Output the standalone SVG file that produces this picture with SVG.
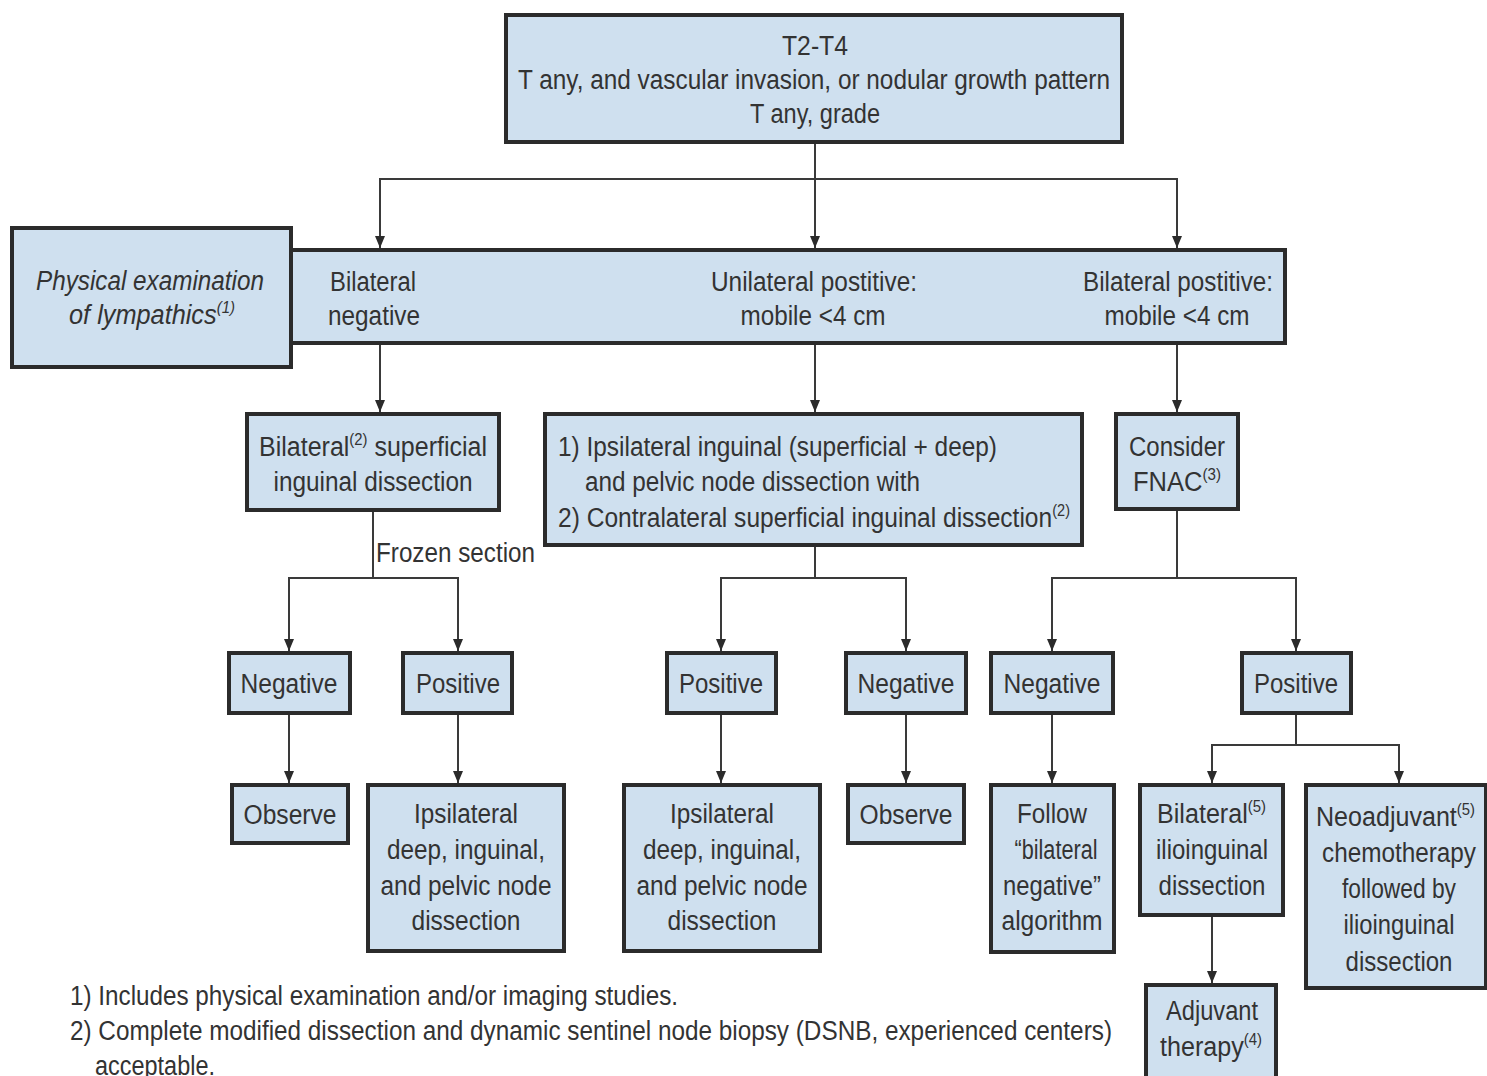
<svg xmlns="http://www.w3.org/2000/svg" width="1487" height="1076" viewBox="0 0 1487 1076">
<defs>
<style>
.box{fill:#cfe0ef;stroke:#2b2b2b;stroke-width:4}
.t{font-family:"Liberation Sans",Arial,sans-serif;font-size:27px;fill:#333;lengthAdjust:spacingAndGlyphs}
.m{text-anchor:middle}
.it{font-style:italic}
.sup{font-size:16px}
.conn line,.conn polyline{stroke:#3a3a3a;stroke-width:2;fill:none}
.arr{marker-end:url(#ah)}
</style>
<marker id="ah" markerUnits="userSpaceOnUse" markerWidth="10" markerHeight="12" refX="5" refY="12" orient="0" viewBox="0 0 10 12">
<path d="M0,0 L10,0 L5,12 z" fill="#2b2b2b"/>
</marker>
</defs>
<rect width="1487" height="1076" fill="#ffffff"/>

<g class="conn" id="connectors">
<line x1="815" y1="142" x2="815" y2="248" class="arr"/>
<polyline points="380,248 380,179 1177,179 1177,248"/>
<line x1="380" y1="179" x2="380" y2="248" class="arr"/>
<line x1="1177" y1="179" x2="1177" y2="248" class="arr"/>
<line x1="380" y1="343" x2="380" y2="412" class="arr"/>
<line x1="815" y1="343" x2="815" y2="412" class="arr"/>
<line x1="1177" y1="343" x2="1177" y2="412" class="arr"/>
<line x1="373" y1="510" x2="373" y2="578"/>
<polyline points="289,651 289,578 458,578 458,651"/>
<line x1="289" y1="578" x2="289" y2="651" class="arr"/>
<line x1="458" y1="578" x2="458" y2="651" class="arr"/>
<line x1="815" y1="545" x2="815" y2="578"/>
<polyline points="721,651 721,578 906,578 906,651"/>
<line x1="721" y1="578" x2="721" y2="651" class="arr"/>
<line x1="906" y1="578" x2="906" y2="651" class="arr"/>
<line x1="1177" y1="509" x2="1177" y2="578"/>
<polyline points="1052,651 1052,578 1296,578 1296,651"/>
<line x1="1052" y1="578" x2="1052" y2="651" class="arr"/>
<line x1="1296" y1="578" x2="1296" y2="651" class="arr"/>
<line x1="289" y1="713" x2="289" y2="783" class="arr"/>
<line x1="458" y1="713" x2="458" y2="783" class="arr"/>
<line x1="721" y1="713" x2="721" y2="783" class="arr"/>
<line x1="906" y1="713" x2="906" y2="783" class="arr"/>
<line x1="1052" y1="713" x2="1052" y2="783" class="arr"/>
<line x1="1296" y1="713" x2="1296" y2="745"/>
<polyline points="1212,783 1212,745 1399,745 1399,783"/>
<line x1="1212" y1="745" x2="1212" y2="783" class="arr"/>
<line x1="1399" y1="745" x2="1399" y2="783" class="arr"/>
<line x1="1212" y1="915" x2="1212" y2="983" class="arr"/>
</g>

<g id="top">
<rect class="box" x="506" y="15" width="616" height="127"/>
<text class="t m" x="815" y="55" textLength="66" lengthAdjust="spacingAndGlyphs">T2-T4</text>
<text class="t m" x="814" y="89" textLength="592" lengthAdjust="spacingAndGlyphs">T any, and vascular invasion, or nodular growth pattern</text>
<text class="t m" x="815" y="123" textLength="130" lengthAdjust="spacingAndGlyphs">T any, grade</text>
</g>

<g id="findings">
<rect class="box" x="291" y="250" width="994" height="93"/>
<text class="t" x="330" y="291" textLength="86" lengthAdjust="spacingAndGlyphs">Bilateral</text>
<text class="t" x="328" y="325" textLength="92" lengthAdjust="spacingAndGlyphs">negative</text>
<text class="t m" x="814" y="291" textLength="206" lengthAdjust="spacingAndGlyphs">Unilateral postitive:</text>
<text class="t m" x="813" y="325" textLength="145" lengthAdjust="spacingAndGlyphs">mobile &lt;4 cm</text>
<text class="t m" x="1178" y="291" textLength="190" lengthAdjust="spacingAndGlyphs">Bilateral postitive:</text>
<text class="t m" x="1177" y="325" textLength="145" lengthAdjust="spacingAndGlyphs">mobile &lt;4 cm</text>
</g>

<g id="physical-exam">
<rect class="box" x="12" y="228" width="279" height="139"/>
<text class="t m it" x="150" y="290" textLength="228" lengthAdjust="spacingAndGlyphs">Physical examination</text>
<text class="t it" x="69" y="324" textLength="166" lengthAdjust="spacingAndGlyphs">of lympathics<tspan class="sup" dy="-11">(1)</tspan></text>
</g>

<g id="bilat-superficial">
<rect class="box" x="247" y="414" width="252" height="96"/>
<text class="t" x="259" y="456" textLength="228" lengthAdjust="spacingAndGlyphs">Bilateral<tspan class="sup" dy="-11">(2)</tspan><tspan dy="11"> superficial</tspan></text>
<text class="t m" x="373" y="491" textLength="199" lengthAdjust="spacingAndGlyphs">inguinal dissection</text>
</g>

<g id="ipsi-contra">
<rect class="box" x="545" y="414" width="537" height="131"/>
<text class="t" x="558" y="456" textLength="439" lengthAdjust="spacingAndGlyphs">1) Ipsilateral inguinal (superficial + deep)</text>
<text class="t" x="585" y="491" textLength="335" lengthAdjust="spacingAndGlyphs">and pelvic node dissection with</text>
<text class="t" x="558" y="527" textLength="512" lengthAdjust="spacingAndGlyphs">2) Contralateral superficial inguinal dissection<tspan class="sup" dy="-11">(2)</tspan></text>
</g>

<g id="fnac">
<rect class="box" x="1116" y="414" width="122" height="95"/>
<text class="t m" x="1177" y="456" textLength="96" lengthAdjust="spacingAndGlyphs">Consider</text>
<text class="t" x="1133" y="491" textLength="88" lengthAdjust="spacingAndGlyphs">FNAC<tspan class="sup" dy="-11">(3)</tspan></text>
</g>

<text class="t" x="376" y="562" textLength="159" lengthAdjust="spacingAndGlyphs">Frozen section</text>

<g id="neg1">
<rect class="box" x="229" y="653" width="121" height="60"/>
<text class="t m" x="289" y="693" textLength="97" lengthAdjust="spacingAndGlyphs">Negative</text>
</g>
<g id="pos1">
<rect class="box" x="403" y="653" width="109" height="60"/>
<text class="t m" x="458" y="693" textLength="84" lengthAdjust="spacingAndGlyphs">Positive</text>
</g>
<g id="pos2">
<rect class="box" x="667" y="653" width="109" height="60"/>
<text class="t m" x="721" y="693" textLength="84" lengthAdjust="spacingAndGlyphs">Positive</text>
</g>
<g id="neg2">
<rect class="box" x="846" y="653" width="120" height="60"/>
<text class="t m" x="906" y="693" textLength="97" lengthAdjust="spacingAndGlyphs">Negative</text>
</g>
<g id="neg3">
<rect class="box" x="991" y="653" width="122" height="60"/>
<text class="t m" x="1052" y="693" textLength="97" lengthAdjust="spacingAndGlyphs">Negative</text>
</g>
<g id="pos3">
<rect class="box" x="1242" y="653" width="109" height="60"/>
<text class="t m" x="1296" y="693" textLength="84" lengthAdjust="spacingAndGlyphs">Positive</text>
</g>

<g id="observe1">
<rect class="box" x="232" y="785" width="116" height="58"/>
<text class="t m" x="290" y="824" textLength="93" lengthAdjust="spacingAndGlyphs">Observe</text>
</g>
<g id="ipsi-dissection1">
<rect class="box" x="368" y="785" width="196" height="166"/>
<text class="t m" x="466" y="823" textLength="104" lengthAdjust="spacingAndGlyphs">Ipsilateral</text>
<text class="t m" x="466" y="859" textLength="158" lengthAdjust="spacingAndGlyphs">deep, inguinal,</text>
<text class="t m" x="466" y="895" textLength="171" lengthAdjust="spacingAndGlyphs">and pelvic node</text>
<text class="t m" x="466" y="930" textLength="109" lengthAdjust="spacingAndGlyphs">dissection</text>
</g>
<g id="ipsi-dissection2">
<rect class="box" x="624" y="785" width="196" height="166"/>
<text class="t m" x="722" y="823" textLength="104" lengthAdjust="spacingAndGlyphs">Ipsilateral</text>
<text class="t m" x="722" y="859" textLength="158" lengthAdjust="spacingAndGlyphs">deep, inguinal,</text>
<text class="t m" x="722" y="895" textLength="171" lengthAdjust="spacingAndGlyphs">and pelvic node</text>
<text class="t m" x="722" y="930" textLength="109" lengthAdjust="spacingAndGlyphs">dissection</text>
</g>
<g id="observe2">
<rect class="box" x="848" y="785" width="116" height="58"/>
<text class="t m" x="906" y="824" textLength="93" lengthAdjust="spacingAndGlyphs">Observe</text>
</g>
<g id="follow">
<rect class="box" x="991" y="785" width="123" height="167"/>
<text class="t m" x="1052" y="823" textLength="70" lengthAdjust="spacingAndGlyphs">Follow</text>
<text class="t m" x="1056" y="859" textLength="83" lengthAdjust="spacingAndGlyphs">“bilateral</text>
<text class="t m" x="1052" y="895" textLength="98" lengthAdjust="spacingAndGlyphs">negative”</text>
<text class="t m" x="1052" y="930" textLength="101" lengthAdjust="spacingAndGlyphs">algorithm</text>
</g>
<g id="bilat-ilioinguinal">
<rect class="box" x="1140" y="785" width="143" height="130"/>
<text class="t" x="1157" y="823" textLength="109" lengthAdjust="spacingAndGlyphs">Bilateral<tspan class="sup" dy="-11">(5)</tspan></text>
<text class="t m" x="1212" y="859" textLength="112" lengthAdjust="spacingAndGlyphs">ilioinguinal</text>
<text class="t m" x="1212" y="895" textLength="107" lengthAdjust="spacingAndGlyphs">dissection</text>
</g>
<g id="neoadjuvant">
<rect class="box" x="1306" y="785" width="180" height="203"/>
<text class="t" x="1316" y="826" textLength="159" lengthAdjust="spacingAndGlyphs">Neoadjuvant<tspan class="sup" dy="-11">(5)</tspan></text>
<text class="t m" x="1399" y="862" textLength="154" lengthAdjust="spacingAndGlyphs">chemotherapy</text>
<text class="t m" x="1399" y="898" textLength="114" lengthAdjust="spacingAndGlyphs">followed by</text>
<text class="t m" x="1399" y="934" textLength="111" lengthAdjust="spacingAndGlyphs">ilioinguinal</text>
<text class="t m" x="1399" y="971" textLength="107" lengthAdjust="spacingAndGlyphs">dissection</text>
</g>
<g id="adjuvant">
<rect class="box" x="1146" y="985" width="130" height="100"/>
<text class="t m" x="1212" y="1020" textLength="92" lengthAdjust="spacingAndGlyphs">Adjuvant</text>
<text class="t" x="1160" y="1056" textLength="102" lengthAdjust="spacingAndGlyphs">therapy<tspan class="sup" dy="-11">(4)</tspan></text>
</g>

<g id="footnotes">
<text class="t" x="70" y="1005" textLength="608" lengthAdjust="spacingAndGlyphs">1) Includes physical examination and/or imaging studies.</text>
<text class="t" x="70" y="1040" textLength="1042" lengthAdjust="spacingAndGlyphs">2) Complete modified dissection and dynamic sentinel node biopsy (DSNB, experienced centers)</text>
<text class="t" x="95" y="1075" textLength="120" lengthAdjust="spacingAndGlyphs">acceptable.</text>
</g>
</svg>
